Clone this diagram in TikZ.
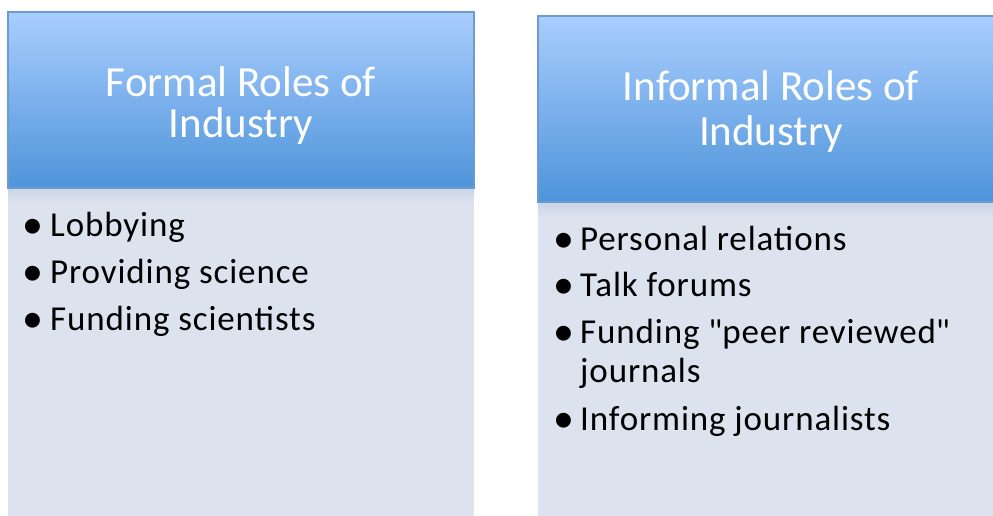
\documentclass[tikz,border=0pt]{standalone}
\usepackage{fontspec}
\setmainfont{Carlito}
\usetikzlibrary{positioning}
\definecolor{headtop}{HTML}{A9CDFE}
\definecolor{headbot}{HTML}{4E94DA}
\definecolor{headline}{HTML}{6C9BD0}
\definecolor{bodyfill}{HTML}{DCE2EE}
\definecolor{bodyshade}{HTML}{CAD4E6}
\tikzset{
	headtext/.style={anchor=base, inner sep=0pt, text=white, font=\fontsize{43}{43}\selectfont},
	headbox/.style={top color=headtop, bottom color=headbot, draw=headline, line width=1.2pt},
	bodybox/.style={fill=bodyfill},
	bullet/.style={anchor=base, inner sep=0pt, yshift=-2pt, font=\fontsize{42}{40}\selectfont},
	itemtext/.style={anchor=base west, inner sep=0pt, font=\fontsize{35}{40}\selectfont\addfontfeature{LetterSpace=2.5}}
}
\begin{document}
\begin{tikzpicture}[x=1pt,y=-1pt]

		\useasboundingbox (0,0) rectangle (993,516);
		\clip (0,0) rectangle (993,516);

		% formal roles
		\fill[bodybox] (8,188) rectangle (474,520);
		\shade[top color=bodyshade, bottom color=bodyfill] (8,188) rectangle (474,203);
		\draw[headbox] (8,12) rectangle (474,188);
		\node[headtext] (formal1) at (241,97) {Formal Roles of};
		\node[headtext] (formal2) at (241,138) {Industry};

		\foreach \y/\txt [count=\i] in {236/Lobbying, 283/Providing science, 330/Funding scientists}{
			\node[bullet] (fdot\i) at (33,\y) {•};
			\node[itemtext] (fitem\i) at (50,\y) {\txt};
		}

		% informal roles
		\fill[bodybox] (538,202) rectangle (1005,520);
		\shade[top color=bodyshade, bottom color=bodyfill] (538,202) rectangle (1005,217);
		\draw[headbox] (538,16) rectangle (1005,202);
		\node[headtext] (informal1) at (771,101) {Informal Roles of};
		\node[headtext] (informal2) at (771,146) {Industry};

		\foreach \y/\txt [count=\i] in {250/Personal relations, 296/Talk forums, 343/Funding \textquotedbl peer reviewed\textquotedbl, 430/Informing journalists}{
			\node[bullet] (idot\i) at (564,\y) {•};
			\node[itemtext] (iitem\i) at (580,\y) {\txt};
		}
		\node[itemtext] (iitem3b) at (580,382) {journals};

	\end{tikzpicture}
\end{document}
